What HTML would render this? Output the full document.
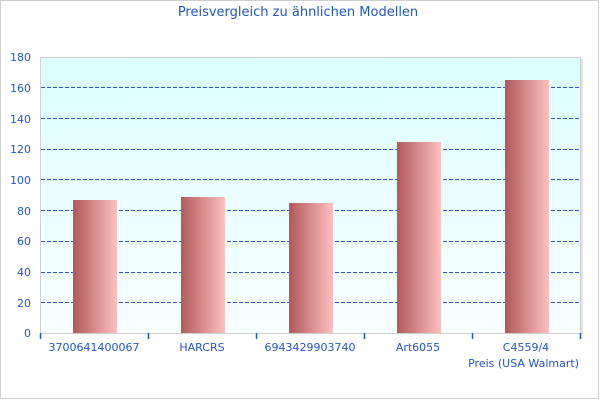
<!DOCTYPE html>
<html><head><meta charset="utf-8"><style>
html,body{margin:0;padding:0;background:#fff;}
svg{display:block;}
text{font-family:"DejaVu Sans","Liberation Sans",sans-serif;fill:#2255cc;}
</style></head><body>
<svg width="600" height="400" viewBox="0 0 600 400" xmlns="http://www.w3.org/2000/svg">
<defs>
<linearGradient id="bg" x1="0" y1="0" x2="0" y2="1">
<stop offset="0" stop-color="#dcffff"/>
<stop offset="1" stop-color="#f8ffff"/>
</linearGradient>
<linearGradient id="bar" x1="0" y1="0" x2="1" y2="0">
<stop offset="0" stop-color="#b05a5a"/>
<stop offset="0.5" stop-color="#d88c8c"/>
<stop offset="1" stop-color="#ffc0c0"/>
</linearGradient>
</defs>
<rect x="0.5" y="0.5" width="598" height="398" fill="#fff" stroke="#cfcfcf"/>
<text x="298" y="16" font-size="13" text-anchor="middle">Preisvergleich zu ähnlichen Modellen</text>
<rect x="581" y="59" width="2" height="275" fill="#e4e4e4"/>
<rect x="40.5" y="57.5" width="540" height="276" fill="url(#bg)" stroke="#d0d0d0"/>
<g stroke="#3355cc" stroke-width="1" stroke-dasharray="4,2">
<line x1="41" y1="87.5" x2="580" y2="87.5"/>
<line x1="41" y1="118.5" x2="580" y2="118.5"/>
<line x1="41" y1="149.5" x2="580" y2="149.5"/>
<line x1="41" y1="179.5" x2="580" y2="179.5"/>
<line x1="41" y1="210.5" x2="580" y2="210.5"/>
<line x1="41" y1="241.5" x2="580" y2="241.5"/>
<line x1="41" y1="272.5" x2="580" y2="272.5"/>
<line x1="41" y1="302.5" x2="580" y2="302.5"/>
</g>
<g fill="url(#bar)">
<rect x="73" y="200" width="44" height="133"/>
<rect x="181" y="197" width="44" height="136"/>
<rect x="289" y="203" width="44" height="130"/>
<rect x="397" y="142" width="44" height="191"/>
<rect x="505" y="80" width="44" height="253"/>
</g>
<line x1="40" y1="333.5" x2="581" y2="333.5" stroke="#d0d0d0"/>
<g stroke="#2255cc" stroke-width="1.5">
<line x1="40.5" y1="333" x2="40.5" y2="339"/>
<line x1="148.5" y1="333" x2="148.5" y2="339"/>
<line x1="256.5" y1="333" x2="256.5" y2="339"/>
<line x1="364.5" y1="333" x2="364.5" y2="339"/>
<line x1="472.5" y1="333" x2="472.5" y2="339"/>
<line x1="580.5" y1="333" x2="580.5" y2="339"/>
</g>
<g font-size="11" text-anchor="end">
<text x="31" y="337">0</text>
<text x="31" y="307">20</text>
<text x="31" y="276">40</text>
<text x="31" y="245">60</text>
<text x="31" y="215">80</text>
<text x="31" y="184">100</text>
<text x="31" y="153">120</text>
<text x="31" y="123">140</text>
<text x="31" y="92">160</text>
<text x="31" y="61">180</text>
</g>
<g font-size="11" text-anchor="middle">
<text x="94" y="351">3700641400067</text>
<text x="202" y="351">HARCRS</text>
<text x="310" y="351">6943429903740</text>
<text x="418" y="351">Art6055</text>
<text x="526" y="351">C4559/4</text>
</g>
<text x="579" y="367" font-size="11" text-anchor="end">Preis (USA Walmart)</text>
</svg>
</body></html>
